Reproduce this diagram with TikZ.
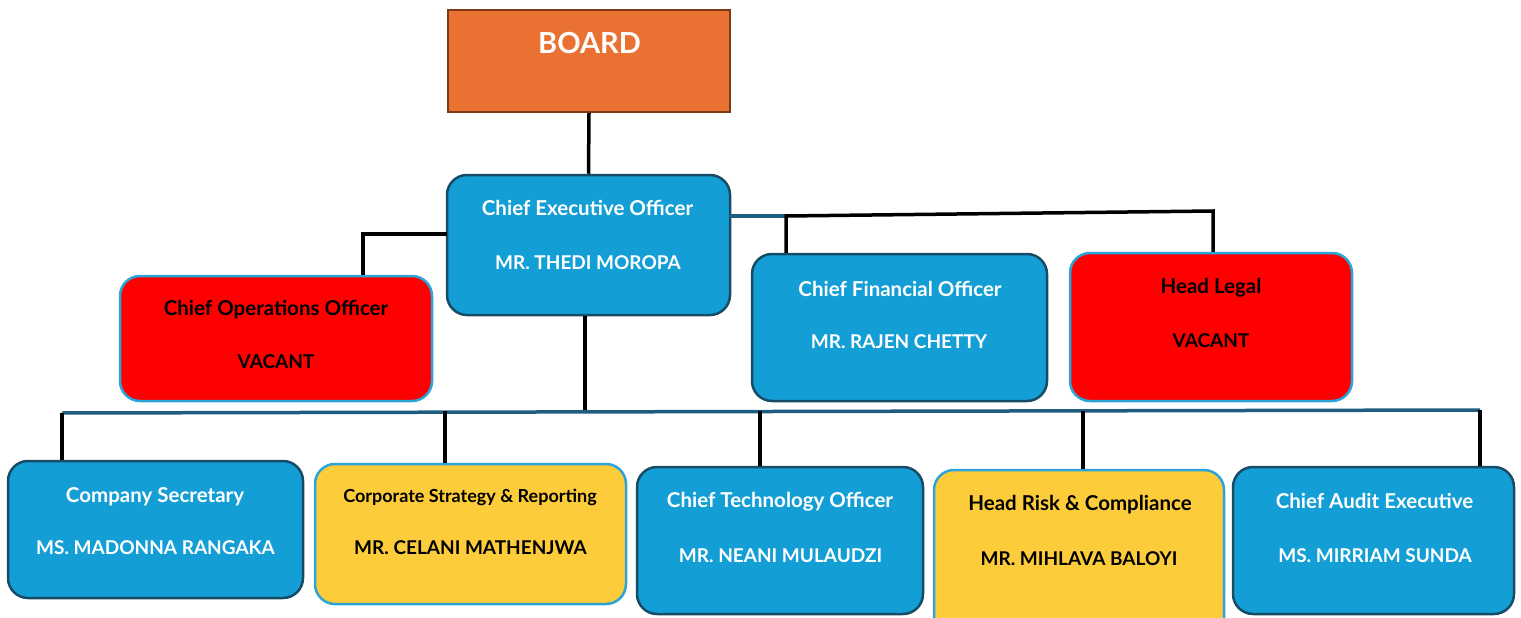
\documentclass[tikz,border=0pt]{standalone}
\usepackage{fontspec}
\setmainfont{Lato}
\definecolor{cblue}{RGB}{19,159,214}
\definecolor{cdark}{RGB}{22,76,102}
\definecolor{clight}{RGB}{44,164,218}
\definecolor{cred}{RGB}{255,0,0}
\definecolor{cyellow}{RGB}{253,204,58}
\definecolor{corange}{RGB}{233,113,50}
\definecolor{cbrown}{RGB}{125,58,22}
\definecolor{cbus}{RGB}{30,92,128}
\begin{document}
\begin{tikzpicture}[x=1pt,y=-1pt,
  box/.style={draw, rounded corners=20pt, line width=2.5pt, inner sep=0pt},
  bluebox/.style={box, fill=cblue, draw=cdark},
  redbox/.style={box, fill=cred, draw=clight},
  yelbox/.style={box, fill=cyellow, draw=clight},
  wtxt/.style={anchor=base, text=white, inner sep=0pt, font=\bfseries\fontsize{20.5}{24}\selectfont},
  wname/.style={wtxt, font=\bfseries\fontsize{19}{22}\selectfont},
  btxt/.style={wtxt, text=black},
  bname/.style={wname, text=black},
  link/.style={line width=3.5pt, draw=black},
  buslink/.style={line width=3.5pt, draw=cbus},
]
\useasboundingbox (0,0) rectangle (1521,618);
\clip (0,0) rectangle (1521,618);

% board
\node[draw=cbrown, fill=corange, line width=2pt, minimum width=282pt, minimum height=102pt] (board) at (589,61) {};
\node[wtxt, font=\bfseries\fontsize{29}{32}\selectfont] (board-t) at (589.5,54) {BOARD};

% executive row
\node[bluebox, minimum width=283pt, minimum height=140pt] (ceo) at (588.5,245) {};
\node[wtxt] (ceo-t) at (587.5,215) {Chief Executive Officer};
\node[wname] (ceo-n) at (588,269) {MR. THEDI MOROPA};

\node[redbox, minimum width=312pt, minimum height=125pt] (coo) at (276,338.5) {};
\node[btxt] (coo-t) at (276,315.5) {Chief Operations Officer};
\node[bname] (coo-n) at (276,368) {VACANT};

\node[bluebox, minimum width=295pt, minimum height=147pt] (cfo) at (899.5,327.5) {};
\node[wtxt] (cfo-t) at (900,296) {Chief Financial Officer};
\node[wname] (cfo-n) at (899,348) {MR. RAJEN CHETTY};

\node[redbox, minimum width=282pt, minimum height=148pt] (hl) at (1211,327) {};
\node[btxt] (hl-t) at (1211,293) {Head Legal};
\node[bname] (hl-n) at (1211,347) {VACANT};

% reporting row
\node[bluebox, minimum width=295pt, minimum height=137pt] (cs) at (155.5,529.5) {};
\node[wtxt] (cs-t) at (155,502) {Company Secretary};
\node[wname] (cs-n) at (155.5,554) {MS. MADONNA RANGAKA};

\node[yelbox, minimum width=311pt, minimum height=140pt] (csr) at (470.5,534) {};
\node[btxt, font=\bfseries\fontsize{18}{21}\selectfont] (csr-t) at (470,502) {Corporate Strategy \& Reporting};
\node[bname] (csr-n) at (470.5,554) {MR. CELANI MATHENJWA};

\node[bluebox, minimum width=286pt, minimum height=147pt] (cto) at (780,540.5) {};
\node[wtxt] (cto-t) at (780,507) {Chief Technology Officer};
\node[wname] (cto-n) at (780.5,562) {MR. NEANI MULAUDZI};

\node[yelbox, minimum width=290pt, minimum height=170pt] (hrc) at (1079,555) {};
\node[btxt] (hrc-t) at (1080,510) {Head Risk \& Compliance};
\node[bname] (hrc-n) at (1079,565) {MR. MIHLAVA BALOYI};

\node[bluebox, minimum width=281pt, minimum height=147pt] (cae) at (1373.5,540.5) {};
\node[wtxt] (cae-t) at (1374.5,508) {Chief Audit Executive};
\node[wname] (cae-n) at (1375,562) {MS. MIRRIAM SUNDA};

% connectors
\draw[link] (board.south) -- (ceo.north);
\coordinate (cl) at (447,234);
\draw[link] (cl) -| (coo.north -| 363,0);
\coordinate (cr) at (730,216);
\coordinate (cfj) at (786,216);
\coordinate (hlj) at (1213,211);
\draw[buslink] (cr) -- (cfj);
\draw[link] (cfo.north -| cfj) -- (cfj) -- (hlj) -- (hl.north -| hlj);

\coordinate (busl) at (62,413);
\coordinate (busr) at (1480,410);
\coordinate (busc) at (585,411);
\draw[link] (ceo.south -| busc) -- (busc);
\draw[buslink] (busl) -- (busr);
\draw[link] (busl) -- (cs.north -| busl);
\draw[link] (445,411) coordinate (d2) -- (csr.north -| d2);
\draw[link] (760,411) coordinate (d3) -- (cto.north -| d3);
\draw[link] (1083,411) coordinate (d4) -- (hrc.north -| d4);
\draw[link] (busr) -- (cae.north -| busr);
\end{tikzpicture}
\end{document}
